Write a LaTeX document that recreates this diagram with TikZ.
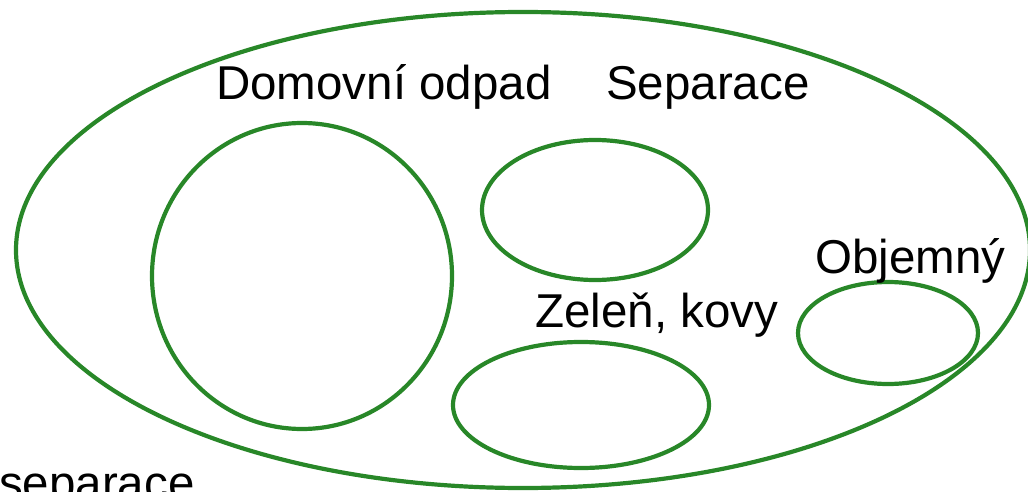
\documentclass[tikz,border=0pt]{standalone}
\usepackage{fontspec}
\setmainfont{Liberation Sans}
\definecolor{ringgreen}{RGB}{40,135,40}

\begin{document}
\begin{tikzpicture}[x = 1pt, y = -1pt]
	\tikzset{
		ring/.style = {draw = ringgreen, line width = 4.2pt},
		label/.style = {anchor = base west, inner sep = 0pt, font = \fontsize{47.5}{56}\selectfont}
	}
	\useasboundingbox (0, 0) rectangle (1028, 492);

	% Outer ellipse

	\draw [ring] (523, 250) ellipse [x radius = 507, y radius = 238];

	% Inner groups

	\draw [ring] (302, 276) ellipse [x radius = 150, y radius = 153];
	\draw [ring] (595, 210) ellipse [x radius = 113, y radius = 70];
	\draw [ring] (581, 405) ellipse [x radius = 128, y radius = 63];
	\draw [ring] (888, 333) ellipse [x radius = 90, y radius = 51];

	% Labels

	\node [label] (domovni) at (216, 100) {Domovní odpad};
	\node [label] (separace) at (606, 100) {Separace};
	\node [label] (zelen) at (535, 327) {Zeleň, kovy};
	\node [label] (objemny) at (815, 273) {Objemný};
	\node [label] (bez) at (-1, 499) {separace};

\end{tikzpicture}
\end{document}
